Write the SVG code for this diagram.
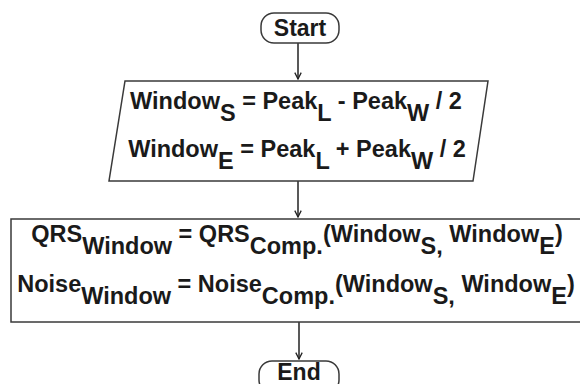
<svg xmlns="http://www.w3.org/2000/svg" width="580" height="384" viewBox="0 0 580 384">
<style>
.t{font-family:"Liberation Sans",Arial,sans-serif;font-weight:bold;fill:#1a1a1a;font-size:23.5px}
.term{font-size:23px}
.shape{fill:#fff;stroke:#3a3a3a;stroke-width:1.5}
.conn{stroke:#222;stroke-width:1.5;fill:none}
</style>
<defs>
<marker id="ah" viewBox="0 0 10 10" refX="9" refY="5" markerWidth="8" markerHeight="8" orient="auto" markerUnits="userSpaceOnUse">
<path d="M1,1 L9,5 L1,9" fill="none" stroke="#222" stroke-width="1.6"/>
</marker>
</defs>
<rect width="580" height="384" fill="#fff"/>
<g id="connectors">
<line class="conn" x1="298" y1="43" x2="298" y2="79" marker-end="url(#ah)"/>
<line class="conn" x1="298" y1="181" x2="298" y2="217" marker-end="url(#ah)"/>
<line class="conn" x1="299" y1="322" x2="299" y2="359" marker-end="url(#ah)"/>
</g>
<g id="start">
<rect class="shape" x="261" y="13" width="78" height="30" rx="13"/>
<text class="t term" x="300" y="36" text-anchor="middle">Start</text>
</g>
<g id="window">
<polygon class="shape" points="125,81 488,81 473,181 109,181"/>
<text class="t" x="296" y="109" text-anchor="middle">Window<tspan dy="12">S</tspan><tspan dy="-12"> = Peak</tspan><tspan dy="12">L</tspan><tspan dy="-12"> - Peak</tspan><tspan dy="12">W</tspan><tspan dy="-12"> / 2</tspan></text>
<text class="t" x="297" y="157" text-anchor="middle">Window<tspan dy="12">E</tspan><tspan dy="-12"> = Peak</tspan><tspan dy="12">L</tspan><tspan dy="-12"> + Peak</tspan><tspan dy="12">W</tspan><tspan dy="-12"> / 2</tspan></text>
</g>
<g id="compute">
<rect class="shape" x="11" y="219" width="600" height="103"/>
<text class="t" x="297" y="242" text-anchor="middle">QRS<tspan dy="12">Window</tspan><tspan dy="-12"> = QRS</tspan><tspan dy="12">Comp.</tspan><tspan dy="-12">(Window</tspan><tspan dy="12">S,</tspan><tspan dy="-12"> Window</tspan><tspan dy="12">E</tspan><tspan dy="-12">)</tspan></text>
<text class="t" x="296" y="292" text-anchor="middle">Noise<tspan dy="12">Window</tspan><tspan dy="-12"> = Noise</tspan><tspan dy="12">Comp.</tspan><tspan dy="-12">(Window</tspan><tspan dy="12">S,</tspan><tspan dy="-12"> Window</tspan><tspan dy="12">E</tspan><tspan dy="-12">)</tspan></text>
</g>
<g id="end">
<rect class="shape" x="259" y="361" width="80" height="32" rx="13"/>
<text class="t term" x="299" y="380" text-anchor="middle">End</text>
</g>
</svg>
